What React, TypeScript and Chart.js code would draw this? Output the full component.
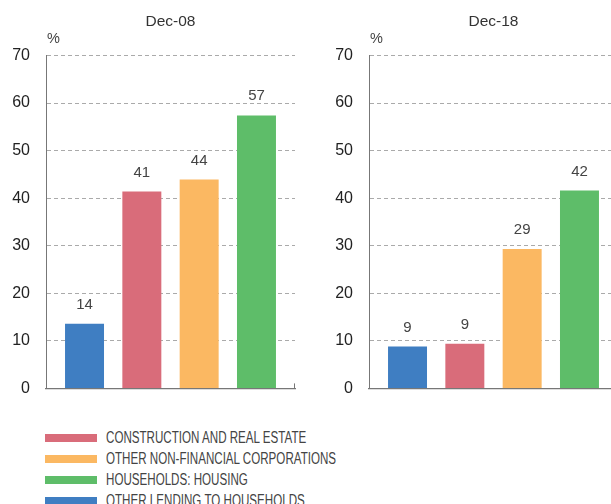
import React, { useEffect, useRef } from 'react';
import { Chart, registerables } from 'chart.js';

Chart.register(...registerables);

const categories = [
  'Other lending to households',
  'Construction and real estate',
  'Other non-financial corporations',
  'Households: housing',
];
const barColors = ['#3F7EC2', '#D96C7A', '#FBB862', '#5EBD69'];
const dec08Values = [13.6, 41.4, 43.9, 57.4];
const dec18Values = [8.8, 9.4, 29.3, 41.6];
const panelTitles = ['Dec-08', 'Dec-18'];
const yTicks = [0, 10, 20, 30, 40, 50, 60, 70];
const legendLabels = [
  'CONSTRUCTION AND REAL ESTATE',
  'OTHER NON-FINANCIAL CORPORATIONS',
  'HOUSEHOLDS: HOUSING',
  'OTHER LENDING TO HOUSEHOLDS',
];
const legendColors = ['#D96C7A', '#FBB862', '#5EBD69', '#3F7EC2'];

const FONT = "'Liberation Sans', Arial, sans-serif";
const CANVAS_H = 414;

function Panel({ title, values, left }: { title: string; values: number[]; left: number }) {
  const ref = useRef<HTMLCanvasElement | null>(null);
  useEffect(() => {
    if (!ref.current) return;
    const overlay = {
      id: 'overlay',
      afterDatasetsDraw(chart: any) {
        const { ctx, chartArea } = chart;
        ctx.save();
        const meta = chart.getDatasetMeta(0);
        ctx.font = `15px ${FONT}`;
        ctx.fillStyle = '#444';
        ctx.textAlign = 'center';
        ctx.textBaseline = 'alphabetic';
        meta.data.forEach((el: any, i: number) => {
          ctx.fillText(String(Math.round(values[i])), el.x, el.y - 15);
        });
        ctx.font = `15.5px ${FONT}`;
        ctx.fillStyle = '#333';
        ctx.fillText(title, (chartArea.left + chartArea.right) / 2, 26);
        ctx.font = `14.5px ${FONT}`;
        ctx.textAlign = 'left';
        ctx.fillStyle = '#444';
        ctx.fillText('%', chartArea.left + 1, 43);
        ctx.strokeStyle = '#777';
        ctx.lineWidth = 1;
        ctx.beginPath();
        ctx.moveTo(chartArea.right - 0.5, chartArea.bottom - 5);
        ctx.lineTo(chartArea.right - 0.5, chartArea.bottom);
        ctx.stroke();
        ctx.restore();
      },
    };
    const chart = new Chart(ref.current, {
      type: 'bar',
      data: {
        datasets: [
          {
            label: title,
            data: values.map((v, i) => ({ x: i, y: v })),
            backgroundColor: barColors,
            borderWidth: 0,
            barPercentage: 0.68,
            categoryPercentage: 1,
          },
        ],
      },
      options: {
        responsive: false,
        animation: false,
        layout: { padding: { top: 55.5, bottom: 12.5, left: 0, right: 5 } },
        plugins: { legend: { display: false }, tooltip: { enabled: false }, title: { display: false } },
        scales: {
          x: {
            type: 'linear',
            min: -0.672,
            max: 3.672,
            offset: false,
            ticks: { display: false },
            grid: { display: false, drawTicks: false },
            border: { display: true, color: '#777', width: 1.2 },
            afterFit: (s: any) => {
              s.height = 0;
            },
          },
          y: {
            min: 0,
            max: 70,
            afterBuildTicks: (s: any) => {
              s.ticks = yTicks.map((v) => ({ value: v }));
            },
            ticks: { font: { family: FONT, size: 16 }, color: '#222', padding: 16 },
            grid: {
              drawTicks: false,
              lineWidth: 1,
              color: (c: any) => (c.tick && c.tick.value === 0 ? 'rgba(0,0,0,0)' : '#AAAAAA'),
            },
            border: { display: true, color: '#777', width: 1, dash: [4, 3] },
            afterFit: (s: any) => {
              s.width = 46;
            },
          },
        },
      },
      plugins: [overlay],
    } as any);
    return () => chart.destroy();
  }, [title, values]);
  return (
    <canvas
      ref={ref}
      width={300}
      height={CANVAS_H}
      style={{ position: 'absolute', left, top: 0, width: 300, height: CANVAS_H, display: 'block' }}
    />
  );
}

export default function App() {
  return (
    <div
      style={{
        position: 'fixed',
        left: 0,
        top: 0,
        width: 611,
        height: 504,
        overflow: 'hidden',
        background: '#fff',
      }}
    >
      <Panel title={panelTitles[0]} values={dec08Values} left={0} />
      <Panel title={panelTitles[1]} values={dec18Values} left={323} />
      {legendLabels.map((lab, i) => (
        <div
          key={lab}
          style={{
            position: 'absolute',
            left: 45,
            top: 427 + i * 21,
            height: 21,
            display: 'flex',
            alignItems: 'center',
            whiteSpace: 'nowrap',
          }}
        >
          <div style={{ width: 52, height: 8, background: legendColors[i], marginRight: 9, flex: 'none' }} />
          <span
            style={{
              fontFamily: FONT,
              fontSize: 16,
              color: '#444',
              lineHeight: '21px',
              display: 'inline-block',
              transform: 'scaleX(0.725)',
              transformOrigin: 'left center',
            }}
          >
            {lab}
          </span>
        </div>
      ))}
    </div>
  );
}
